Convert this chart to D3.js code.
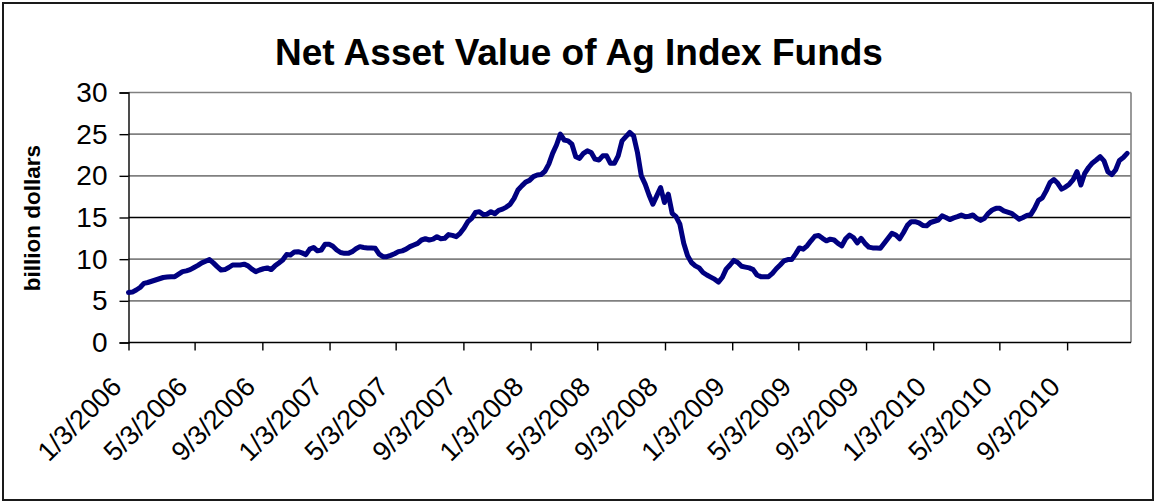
<!DOCTYPE html>
<html>
<head>
<meta charset="utf-8">
<script src="https://cdn.jsdelivr.net/npm/d3@7"></script>
<style>
  html, body { margin: 0; padding: 0; background: #fff; }
  svg { display: block; }
</style>
</head>
<body>
<svg id="chart" width="1157" height="503"></svg>
<script>
// ---- data (weekly, starting Tuesday 1/3/2006) ----
const titleText = "Net Asset Value of Ag Index Funds";
const yAxisTitle = "billion dollars";
const firstWeek = "2006-01-03";
const navValues = [
  6.0, 6.05, 6.3, 6.6, 7.1, 7.2, 7.35, 7.5, 7.65, 7.8,
  7.85, 7.9, 7.9, 8.2, 8.5, 8.6, 8.75, 9.0, 9.25, 9.55,
  9.75, 9.95, 9.55, 9.1, 8.7, 8.75, 9.0, 9.3, 9.3, 9.3,
  9.4, 9.2, 8.8, 8.5, 8.7, 8.85, 8.95, 8.75, 9.2, 9.55,
  9.9, 10.55, 10.5, 10.85, 10.9, 10.75, 10.55, 11.2, 11.4, 11.0,
  11.1, 11.8, 11.8, 11.55, 11.1, 10.8, 10.7, 10.7, 10.9, 11.25,
  11.5, 11.4, 11.35, 11.35, 11.3, 10.6, 10.3, 10.3, 10.45, 10.65,
  10.9, 11.0, 11.2, 11.5, 11.7, 11.9, 12.3, 12.45, 12.3, 12.4,
  12.7, 12.45, 12.5, 12.95, 12.85, 12.7, 13.1, 13.7, 14.5, 14.9,
  15.6, 15.7, 15.35, 15.4, 15.7, 15.45, 15.85, 16.0, 16.25, 16.6,
  17.3, 18.3, 18.8, 19.25, 19.45, 19.9, 20.1, 20.15, 20.55, 21.4,
  22.7, 23.7, 25.0, 24.3, 24.2, 23.8, 22.3, 22.1, 22.7, 23.0,
  22.8, 22.0, 21.9, 22.4, 22.4, 21.5, 21.5, 22.4, 24.2, 24.7,
  25.2, 24.8, 22.8, 20.0, 19.0, 17.7, 16.6, 17.6, 18.6, 16.8,
  17.8, 15.5, 15.1, 14.2, 11.9, 10.4, 9.6, 9.2, 8.95, 8.4,
  8.1, 7.85, 7.6, 7.25, 7.8, 8.8, 9.3, 9.85, 9.6, 9.15,
  9.05, 8.95, 8.75, 8.1, 7.9, 7.9, 7.9, 8.3, 8.85, 9.3,
  9.8, 9.95, 9.95, 10.6, 11.35, 11.2, 11.6, 12.2, 12.75, 12.85,
  12.5, 12.2, 12.4, 12.3, 11.9, 11.6, 12.45, 12.9, 12.6, 11.95,
  12.5, 11.9, 11.45, 11.35, 11.35, 11.3, 11.9, 12.5, 13.1, 12.9,
  12.45, 13.2, 14.05, 14.5, 14.5, 14.35, 14.05, 14.0, 14.4, 14.55,
  14.7, 15.2, 15.0, 14.75, 14.95, 15.1, 15.3, 15.1, 15.15, 15.3,
  14.9, 14.65, 14.9, 15.5, 15.9, 16.1, 16.1, 15.8, 15.65, 15.5,
  15.15, 14.8, 15.0, 15.25, 15.35, 16.1, 17.05, 17.35, 18.2, 19.2,
  19.55, 19.1, 18.4, 18.65, 19.0, 19.55, 20.5, 18.9, 20.3, 21.0,
  21.55, 21.9, 22.3, 21.8, 20.5, 20.15, 20.7, 21.85, 22.2, 22.7
];
const yTicks = [0, 5, 10, 15, 20, 25, 30];
const xTickDates = ["2006-01-03", "2006-05-03", "2006-09-03", "2007-01-03", "2007-05-03",
  "2007-09-03", "2008-01-03", "2008-05-03", "2008-09-03", "2009-01-03", "2009-05-03",
  "2009-09-03", "2010-01-03", "2010-05-03", "2010-09-03"];
const xTickLabels = ["1/3/2006", "5/3/2006", "9/3/2006", "1/3/2007", "5/3/2007",
  "9/3/2007", "1/3/2008", "5/3/2008", "9/3/2008", "1/3/2009", "5/3/2009",
  "9/3/2009", "1/3/2010", "5/3/2010", "9/3/2010"];
const axisEnd = "2010-12-28";

// ---- drawing ----
const parse = d3.utcParse("%Y-%m-%d");
const start = parse(firstWeek);
const data = navValues.map((v, i) => ({ date: d3.utcDay.offset(start, 7 * i), value: v }));

const svg = d3.select("#chart");
const font = "'Liberation Sans', Arial, Helvetica, sans-serif";
const plotLeft = 128.5, plotRight = 1131, plotTop = 92.5, plotBottom = 342.5;

const x = d3.scaleUtc().domain([start, parse(axisEnd)]).range([plotLeft, plotRight]);
const y = d3.scaleLinear().domain([0, 30]).range([plotBottom, plotTop]);

// outer border
svg.append("rect").attr("x", 3).attr("y", 3).attr("width", 1150).attr("height", 497)
  .attr("fill", "#fff").attr("stroke", "#1a1a1a").attr("stroke-width", 2);

// title
svg.append("text").attr("x", 579).attr("y", 65).attr("text-anchor", "middle")
  .attr("font-family", font).attr("font-weight", "bold").attr("font-size", 37)
  .attr("fill", "#000").text(titleText);

// gridlines
svg.append("g").selectAll("line").data(yTicks.filter(d => d > 0)).join("line")
  .attr("x1", plotLeft).attr("x2", plotRight)
  .attr("y1", d => y(d)).attr("y2", d => y(d))
  .attr("stroke", d => d === 15 ? "#000" : "#808080").attr("stroke-width", d => d === 15 ? 1.4 : 1.6);

// right border of plot
svg.append("line").attr("x1", plotRight).attr("x2", plotRight).attr("y1", y(30)).attr("y2", plotBottom)
  .attr("stroke", "#808080").attr("stroke-width", 1.6);

// y axis
const yAxis = d3.axisLeft(y).tickValues(yTicks).tickSize(9).tickPadding(12).tickFormat(d3.format("d"));
const gy = svg.append("g").attr("transform", `translate(${plotLeft},0)`).call(yAxis);
gy.select(".domain").attr("stroke", "#000").attr("stroke-width", 1.4);
gy.selectAll(".tick line").attr("stroke", "#000").attr("stroke-width", 1.4);
gy.selectAll(".tick text").attr("font-family", font).attr("font-size", 28).attr("fill", "#000");

// x axis
const xAxis = d3.axisBottom(x).tickValues(xTickDates.map(parse)).tickSize(8)
  .tickFormat((d, i) => xTickLabels[i]);
const gx = svg.append("g").attr("transform", `translate(0,${plotBottom})`).call(xAxis);
gx.select(".domain").attr("stroke", "#000").attr("stroke-width", 1.4).attr("d", `M${plotLeft},0H${plotRight}`);
gx.selectAll(".tick line").attr("stroke", "#000").attr("stroke-width", 1.4);
gx.selectAll(".tick text")
  .attr("font-family", font).attr("font-size", 27).attr("fill", "#000")
  .attr("text-anchor", "end").attr("dy", null).attr("y", null)
  .attr("transform", "translate(-6,46) rotate(-45)");

// y axis title
svg.append("text").attr("transform", "translate(40,218) rotate(-90)")
  .attr("text-anchor", "middle").attr("font-family", font).attr("font-weight", "bold")
  .attr("font-size", 22.5).attr("fill", "#000").text(yAxisTitle);

// line
const line = d3.line().x(d => x(d.date)).y(d => y(d.value)).curve(d3.curveLinear);
svg.append("path").datum(data).attr("d", line)
  .attr("fill", "none").attr("stroke", "#000080").attr("stroke-width", 5)
  .attr("stroke-linejoin", "round").attr("stroke-linecap", "round");
</script>
</body>
</html>
